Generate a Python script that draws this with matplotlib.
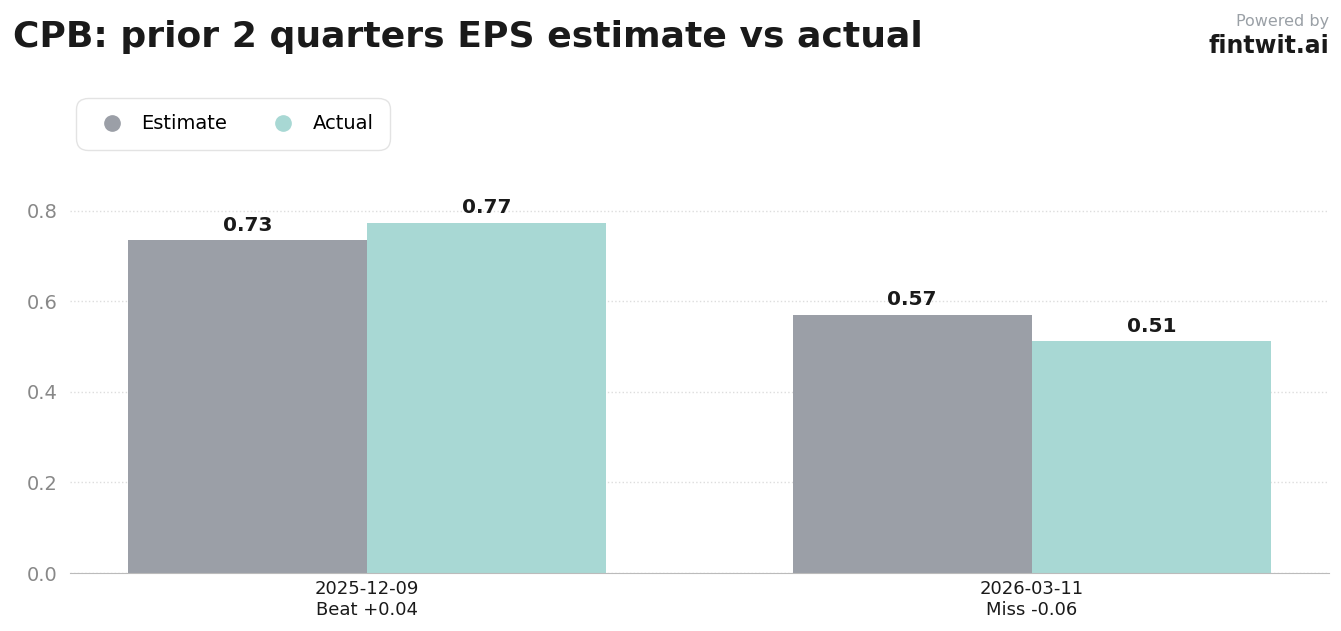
import matplotlib
matplotlib.use("Agg")
import numpy as np
import matplotlib.pyplot as plt

# data
dates = ["2025-12-09", "2026-03-11"]
outcomes = ["Beat +0.04", "Miss -0.06"]
estimate = [0.735, 0.57]
actual = [0.773, 0.512]
estimate_labels = ["0.73", "0.57"]
actual_labels = ["0.77", "0.51"]

EST_COLOR = "#9b9fa7"
ACT_COLOR = "#a8d8d4"
TEXT = "#1a1a1a"

plt.rcParams['font.family'] = ['DejaVu Sans']

fig = plt.figure(figsize=(13.41, 6.31), dpi=100)
ax = fig.add_axes([0.0522, 0.0919, 0.9388, 0.61])

x = np.arange(len(dates))
w = 0.36
b1 = ax.bar(x - w / 2, estimate, w, color=EST_COLOR, label="Estimate")
b2 = ax.bar(x + w / 2, actual, w, color=ACT_COLOR, label="Actual")

for bars, labels in ((b1, estimate_labels), (b2, actual_labels)):
    for rect, lab in zip(bars, labels):
        ax.annotate(lab, (rect.get_x() + rect.get_width() / 2, rect.get_height()),
                    xytext=(0, 4), textcoords="offset points",
                    ha="center", va="bottom", fontsize=14.5, fontweight="bold", color=TEXT)

ax.set_xlim(-0.447, 1.447)
ax.set_ylim(0, 0.85)
ax.set_yticks([0, 0.2, 0.4, 0.6, 0.8])
ax.set_yticklabels(["0.0", "0.2", "0.4", "0.6", "0.8"])
ax.set_xticks(x)
ax.set_xticklabels([f"{d}\n{o}" for d, o in zip(dates, outcomes)], fontsize=13, color=TEXT)
ax.tick_params(axis="y", labelsize=14, labelcolor="#888888", length=0, pad=9)
ax.tick_params(axis="x", length=0, pad=5)
ax.grid(axis="y", linestyle=":", color="#dddddd", linewidth=1)
ax.set_axisbelow(True)
for s in ("top", "right", "left"):
    ax.spines[s].set_visible(False)
ax.spines["bottom"].set_color("#bbbbbb")

leg_handles = [
    plt.Line2D([], [], marker="o", linestyle="", markersize=11, color=EST_COLOR),
    plt.Line2D([], [], marker="o", linestyle="", markersize=11, color=ACT_COLOR),
]
leg = fig.legend(leg_handles, ["Estimate", "Actual"], loc="upper left",
                 bbox_to_anchor=(0.0567, 0.845), ncol=2, fontsize=14, frameon=True,
                 fancybox=True, edgecolor="#dddddd", borderpad=0.85, columnspacing=1.9,
                 handletextpad=0.5, borderaxespad=0)
leg.get_frame().set_boxstyle("round", pad=0, rounding_size=0.6)

fig.text(0.0097, 0.925, "CPB: prior 2 quarters EPS estimate vs actual",
         fontsize=26, fontweight="bold", color=TEXT, ha="left", va="baseline")
fig.text(0.991, 0.959, "Powered by", fontsize=11.5, color="#9aa0a6", ha="right", va="baseline")
fig.text(0.991, 0.916, "fintwit.ai", fontsize=17, fontweight="bold", color=TEXT,
         ha="right", va="baseline")

fig.savefig("out.png", dpi=100, facecolor="white")
